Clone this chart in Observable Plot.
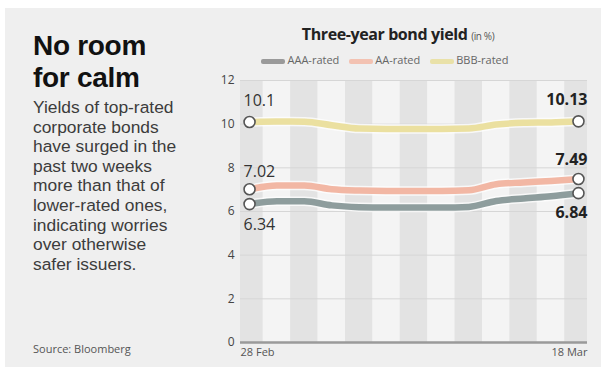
<!DOCTYPE html>
<html>
<head>
<meta charset="utf-8">
<script src="https://cdn.jsdelivr.net/npm/d3@7"></script>
<script src="https://cdn.jsdelivr.net/npm/@observablehq/plot@0.6"></script>
<style>
  html, body { margin: 0; padding: 0; background: #fff; }
  #page { position: relative; width: 606px; height: 368px; overflow: hidden; font-family: "Open Sans", "Noto Sans", sans-serif; }
  #panel { position: absolute; left: 5px; top: 8px; width: 596px; height: 359px; background: #efefef; }
  .abs { position: absolute; white-space: nowrap; }
  #headline { left: 33px; top: 30px; font-family: "Liberation Sans", Arial, sans-serif; font-size: 28px; font-weight: 700; line-height: 31.5px; color: #111; letter-spacing: -0.3px; }
  #body { left: 33px; top: 98px; font-family: "Liberation Sans", Arial, sans-serif; font-size: 17.4px; line-height: 19.6px; color: #3c3c3c; letter-spacing: 0px; }
  #source { left: 33px; top: 341px; font-size: 11px; color: #555; }
  #ctitle { left: 198px; width: 400px; top: 23px; text-align: center; font-size: 16px; font-weight: 700; color: #222; letter-spacing: -0.4px; }
  #ctitle span { font-size: 10px; font-weight: 400; color: #555; }
  #legend { left: 170px; width: 430px; top: 52px; text-align: center; font-size: 11px; color: #666; }
  #legend .item { display: inline-block; margin: 0 5px; }
  #legend .sw { display: inline-block; width: 24px; height: 5px; vertical-align: middle; margin-right: 2px; border-radius: 2px; }
  #chart { left: 200px; top: 66px; }
</style>
</head>
<body>
<div id="page">
  <div id="panel"></div>
  <div class="abs" id="headline">No room<br>for calm</div>
  <div class="abs" id="body">Yields of top-rated<br>corporate bonds<br>have surged in the<br>past two weeks<br>more than that of<br>lower-rated ones,<br>indicating worries<br>over otherwise<br>safer issuers.</div>
  <div class="abs" id="source">Source: Bloomberg</div>
  <div class="abs" id="ctitle">Three-year bond yield <span>(in %)</span></div>
  <div class="abs" id="legend"></div>
  <div class="abs" id="chart"></div>
</div>
<script>
// ---- data ----
const dates = ["28 Feb", "1 Mar", "4 Mar", "5 Mar", "6 Mar", "7 Mar", "8 Mar", "11 Mar", "12 Mar", "13 Mar", "14 Mar", "15 Mar", "18 Mar"];
const aaa = [6.34, 6.47, 6.47, 6.28, 6.20, 6.18, 6.18, 6.18, 6.21, 6.48, 6.60, 6.70, 6.84];
const aa  = [7.02, 7.19, 7.19, 7.02, 6.96, 6.94, 6.94, 6.94, 6.97, 7.25, 7.33, 7.40, 7.49];
const bbb = [10.10, 10.12, 10.11, 9.95, 9.80, 9.78, 9.78, 9.78, 9.80, 9.98, 10.06, 10.08, 10.13];
const seriesNames = ["AAA-rated", "AA-rated", "BBB-rated"];
const seriesColors = ["#8e9d9d", "#f2b7a4", "#ebe0a0"];
const legendColors = ["#9a9a9a", "#f3c2b2", "#e9e1a8"];
const yTicks = [0, 2, 4, 6, 8, 10, 12];

// ---- tables ----
const seriesVals = [aaa, aa, bbb];
const rows = [];
seriesNames.forEach((name, s) => seriesVals[s].forEach((v, i) => rows.push({series: name, i, date: dates[i], value: v})));
const bands = dates.map((d, i) => ({i, dark: i % 2 === 0}));
const last = dates.length - 1;
const pick = (s, i) => rows.filter(d => d.series === s && d.i === i);
const ends = rows.filter(d => d.i === 0 || d.i === last);

// legend
const legend = document.getElementById("legend");
seriesNames.forEach((n, k) => {
  const el = document.createElement("span");
  el.className = "item";
  el.innerHTML = `<span class="sw" style="background:${legendColors[k]}"></span>${n}`;
  legend.appendChild(el);
});

const colorOf = Object.fromEntries(seriesNames.map((n, k) => [n, seriesColors[k]]));

const startLabel = (s, dy, digits) => Plot.text(pick(s, 0), {x: "i", y: "value", text: d => d.value.toFixed(digits), textAnchor: "start", dx: -6, dy, fontSize: 16, fill: "#333"});
const endLabel = (s, dy) => Plot.text(pick(s, last), {x: "i", y: "value", text: d => d.value.toFixed(2), textAnchor: "end", dx: 9, dy, fontSize: 16, fontWeight: 700, fill: "#222"});

const chart = Plot.plot({
  width: 400,
  height: 300,
  marginLeft: 40,
  marginRight: 13,
  marginTop: 14,
  marginBottom: 24,
  style: {background: "transparent", fontFamily: "Open Sans, sans-serif"},
  x: {type: "linear", domain: [-0.33, last + 0.33], axis: null},
  y: {domain: [0, 12], axis: null},
  marks: [
    Plot.rect(bands, {x1: d => d.i - 0.5, x2: d => d.i + 0.5, y1: 0, y2: 12, fill: d => d.dark ? "#e3e3e3" : "#f4f4f4", clip: true}),
    Plot.ruleY(yTicks.filter(t => t > 0), {stroke: "#d6d6d6", strokeWidth: 1}),
    Plot.ruleY([0], {stroke: "#9a9a9a", strokeWidth: 2.5}),
    Plot.axisY({ticks: yTicks, label: null, tickSize: 0, tickPadding: 6, fontSize: 12, color: "#444", tickFormat: d => String(d)}),
    Plot.axisX({ticks: [0], label: null, tickSize: 0, tickPadding: 6, textAnchor: "start", dx: -9, fontSize: 11, color: "#555", tickFormat: () => dates[0]}),
    Plot.axisX({ticks: [last], label: null, tickSize: 0, tickPadding: 6, textAnchor: "end", dx: 9, fontSize: 11, color: "#555", tickFormat: () => dates[last]}),
    Plot.line(rows, {x: "i", y: "value", z: "series", stroke: "#ffffff", strokeOpacity: 0.75, strokeWidth: 9.5, curve: "monotone-x"}),
    Plot.line(rows, {x: "i", y: "value", z: "series", stroke: d => colorOf[d.series], strokeWidth: 6.5, curve: "monotone-x"}),
    Plot.dot(ends, {x: "i", y: "value", r: 5.5, fill: "#fff", stroke: "#555", strokeWidth: 1.6}),
    startLabel("BBB-rated", -21, 1),
    startLabel("AA-rated", -17, 2),
    startLabel("AAA-rated", 21, 2),
    endLabel("BBB-rated", -21),
    endLabel("AA-rated", -19),
    endLabel("AAA-rated", 20)
  ]
});
document.getElementById("chart").appendChild(chart);
</script>
</body>
</html>
